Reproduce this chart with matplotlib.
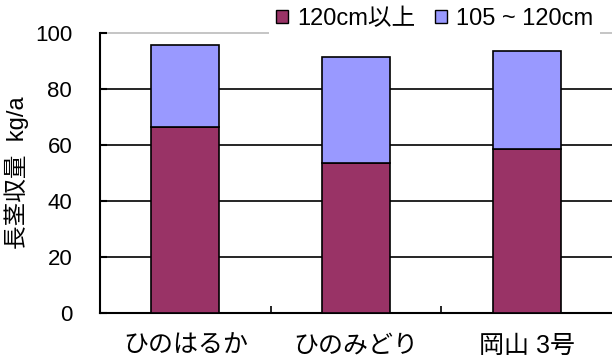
import matplotlib
matplotlib.use("Agg")
import matplotlib.pyplot as plt
from matplotlib.patches import Patch
import numpy

plt.rcParams['font.family'] = ['Liberation Sans', 'Noto Sans CJK JP', 'DejaVu Sans']

# yield of long stems per variety, split by stem length class
varieties = ['ひのはるか', 'ひのみどり', '岡山 3号']
over_120 = [66.5, 53.5, 58.5]
from_105_to_120 = [29.3, 38.0, 35.0]
series_names = ['120cm以上', '105 ~ 120cm']
yticks = [0, 20, 40, 60, 80, 100]

color_low = '#993366'
color_high = '#9999ff'

fig = plt.figure(figsize=(6.12, 3.63), dpi=100)
ax = fig.add_axes([100 / 612, 50 / 363, 512 / 612, 280 / 363])

x = numpy.arange(len(varieties))
ax.bar(x, over_120, width=0.4, color=color_low, edgecolor='black',
       linewidth=1.2, zorder=3)
ax.bar(x, from_105_to_120, width=0.4, bottom=over_120, color=color_high,
       edgecolor='black', linewidth=1.2, zorder=3)

ax.set_xlim(-0.5, len(varieties) - 0.5)
ax.set_ylim(0, 100)

# horizontal grid: black lines, the top one light gray
for v in yticks[1:-1]:
    ax.axhline(v, color='black', linewidth=1.2, zorder=1)
ax.axhline(yticks[-1], color='#bbbbbb', linewidth=1.2, zorder=1, clip_on=False)

for side in ('top', 'right'):
    ax.spines[side].set_visible(False)
ax.spines['left'].set_linewidth(1.5)
ax.spines['bottom'].set_linewidth(1.5)

ax.set_yticks(yticks)
ax.tick_params(axis='y', direction='in', length=5, width=1.5, labelsize=16, pad=20)

# category labels centred under bars, ticks between categories
ax.set_xticks(x)
ax.set_xticklabels(varieties, fontsize=18)
ax.tick_params(axis='x', which='major', length=0, pad=15)
ax.set_xticks(x[:-1] + 0.5, minor=True)
ax.tick_params(axis='x', which='minor', direction='in', length=5, width=1.2)

ax.set_ylabel('長茎収量  kg/a', fontsize=17, labelpad=4)

handles = [Patch(facecolor=color_low, edgecolor='black', linewidth=1.0),
           Patch(facecolor=color_high, edgecolor='black', linewidth=1.0)]
leg = fig.legend(handles, series_names, loc='upper right', bbox_to_anchor=(1.0, 1.03),
                 ncol=2, fontsize=17, frameon=True, facecolor='white', edgecolor='none',
                 framealpha=1.0, fancybox=False, handlelength=0.5, handleheight=0.5,
                 handletextpad=0.4, columnspacing=0.8, borderpad=0.3)

fig.savefig('out.png', dpi=100)
